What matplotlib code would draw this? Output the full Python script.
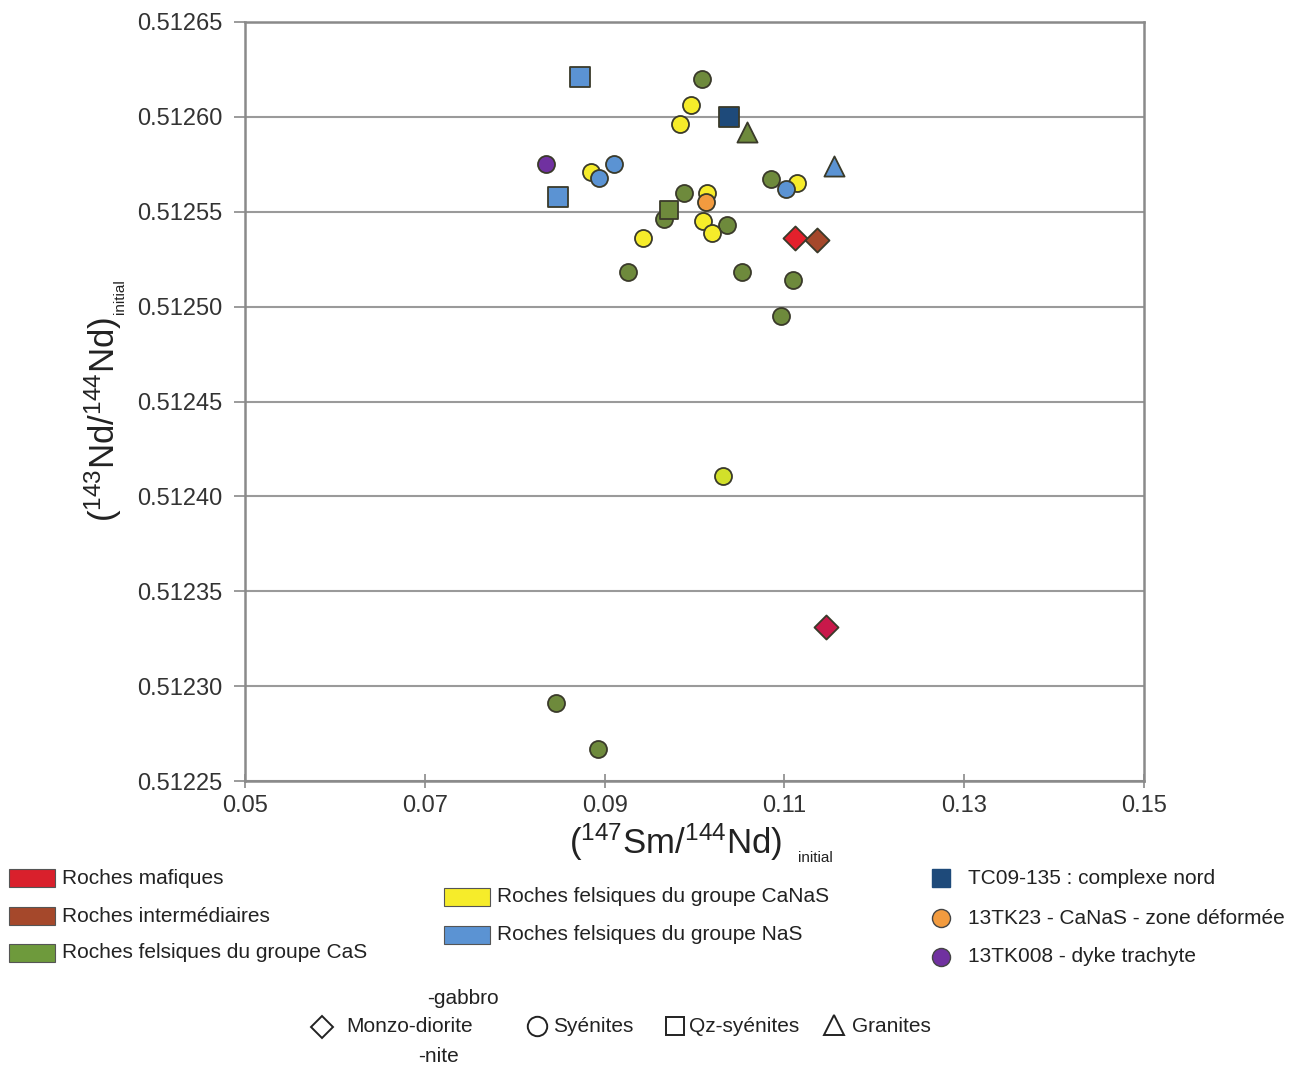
import matplotlib.pyplot as plt
from matplotlib.patches import Rectangle

plt.rcParams['font.family'] = ['Liberation Sans', 'DejaVu Sans']
plt.rcParams['mathtext.fontset'] = 'custom'
plt.rcParams['mathtext.rm'] = 'Liberation Sans'

# data: (147Sm/144Nd) vs (143Nd/144Nd)
mafic_x = [0.11118, 0.11463]
mafic_y = [0.512536, 0.512331]
inter_x = [0.11363]
inter_y = [0.512535]

cas_syen_x = [0.10083, 0.09883, 0.09661, 0.10362, 0.10851, 0.0926, 0.10528, 0.11096, 0.10962, 0.0846, 0.08927]
cas_syen_y = [0.512620, 0.512560, 0.512546, 0.512543, 0.512567, 0.512518, 0.512518, 0.512514, 0.512495, 0.512291, 0.512267]
cas_qz_x = [0.09716]
cas_qz_y = [0.512551]
cas_gran_x = [0.10584]
cas_gran_y = [0.512592]

canas_syen_x = [0.09961, 0.09839, 0.08849, 0.10139, 0.10095, 0.10195, 0.09427, 0.1114]
canas_syen_y = [0.512606, 0.512596, 0.512571, 0.512560, 0.512545, 0.512539, 0.512536, 0.512565]
canas_low_x = [0.10317]
canas_low_y = [0.512411]

nas_syen_x = [0.09105, 0.08938, 0.11018]
nas_syen_y = [0.512575, 0.512568, 0.512562]
nas_qz_x = [0.08726, 0.08482]
nas_qz_y = [0.512621, 0.512558]
nas_gran_x = [0.11552]
nas_gran_y = [0.512574]

tc09_x = [0.10384]
tc09_y = [0.512600]
tk23_x = [0.10128]
tk23_y = [0.512555]
tk008_x = [0.08348]
tk008_y = [0.512575]

x_ticks = [0.05, 0.07, 0.09, 0.11, 0.13, 0.15]
y_ticks = [0.51225, 0.51230, 0.51235, 0.51240, 0.51245, 0.51250, 0.51255, 0.51260, 0.51265]

RED = '#e3202c'
CRIMSON = '#c8184a'
BROWN = '#a5482b'
GREEN = '#6e8a3c'
YELLOW = '#f6ec2a'
LIME = '#d2e02a'
BLUE = '#5b93d3'
NAVY = '#1e4a7a'
ORANGE = '#f29b3f'
PURPLE = '#7031a0'

fig = plt.figure(figsize=(13.09, 10.68), dpi=100)
ax = fig.add_axes([245 / 1309, 1 - 781 / 1068, 899 / 1309, 759 / 1068])

S = 150
kw = dict(edgecolors='#3a3a2a', linewidths=1.3, zorder=3)
ax.scatter(cas_syen_x, cas_syen_y, s=S, marker='o', c=GREEN, **kw)
ax.scatter(canas_syen_x, canas_syen_y, s=S, marker='o', c=YELLOW, **kw)
ax.scatter(canas_low_x, canas_low_y, s=S, marker='o', c=LIME, **kw)
ax.scatter(nas_syen_x, nas_syen_y, s=S, marker='o', c=BLUE, **kw)
ax.scatter(cas_qz_x, cas_qz_y, s=S, marker='s', c=GREEN, **kw)
ax.scatter(nas_qz_x, nas_qz_y, s=S * 1.3, marker='s', c=BLUE, **kw)
ax.scatter(cas_gran_x, cas_gran_y, s=S * 1.4, marker='^', c=GREEN, **kw)
ax.scatter(nas_gran_x, nas_gran_y, s=S * 1.4, marker='^', c=BLUE, **kw)
ax.scatter(tc09_x, tc09_y, s=S * 1.3, marker='s', c=NAVY, **kw)
ax.scatter(tk23_x, tk23_y, s=S, marker='o', c=ORANGE, **kw)
ax.scatter(tk008_x, tk008_y, s=S, marker='o', c=PURPLE, **kw)
ax.scatter(mafic_x[:1], mafic_y[:1], s=S, marker='D', c=RED, **kw)
ax.scatter(mafic_x[1:], mafic_y[1:], s=S, marker='D', c=CRIMSON, **kw)
ax.scatter(inter_x, inter_y, s=S, marker='D', c=BROWN, **kw)

ax.set_xlim(0.05, 0.15)
ax.set_ylim(0.51225, 0.51265)
ax.set_xticks(x_ticks)
ax.set_yticks(y_ticks)
ax.set_xticklabels(['%.2f' % v for v in x_ticks])
ax.set_yticklabels(['%.5f' % v for v in y_ticks])
ax.grid(axis='y', color='#9a9a9a', linewidth=1.5)
ax.set_axisbelow(True)
for sp in ax.spines.values():
    sp.set_color('#8a8a8a')
    sp.set_linewidth(1.8)
ax.tick_params(axis='both', colors='#8a8a8a', labelcolor='#333333', labelsize=17, width=1.2)
ax.tick_params(axis='x', direction='inout', length=10, pad=5)
ax.tick_params(axis='y', direction='out', length=8, pad=8)

# axis titles drawn as text (superscripts and small subscript "initial")
fig.text(0.079, 0.607, r'($\mathregular{^{143}}$Nd/$\mathregular{^{144}}$Nd)', rotation=90, fontsize=25,
         ha='center', va='center', color='#222222')
fig.text(0.0917, 0.722, 'initial', rotation=90, fontsize=11, ha='center', va='center', color='#222222')
fig.text(0.516, 0.211, r'($\mathregular{^{147}}$Sm/$\mathregular{^{144}}$Nd)', fontsize=25,
         ha='center', va='center', color='#222222')
fig.text(0.623, 0.197, 'initial', fontsize=11, ha='center', va='center', color='#222222')

# legend drawn in pixel coordinates on an overlay
lg = fig.add_axes([0, 0, 1, 1])
lg.set_xlim(0, 1309)
lg.set_ylim(1068, 0)
lg.axis('off')

lfont = dict(fontsize=15, va='center', color='#222222')

def patch(x, y, col, label):
    lg.add_patch(Rectangle((x, y - 9), 46, 18, facecolor=col, edgecolor='#555555', linewidth=0.8))
    lg.text(x + 53, y, label, **lfont)

patch(9, 878, '#d9202c', 'Roches mafiques')
patch(9, 916, '#a5482b', 'Roches intermédiaires')
patch(9, 953, '#6e9a3c', 'Roches felsiques du groupe CaS')
patch(444, 897, YELLOW, 'Roches felsiques du groupe CaNaS')
patch(444, 935, BLUE, 'Roches felsiques du groupe NaS')

lg.plot([941], [878], marker='s', ms=13, color=NAVY, mec=NAVY, ls='none')
lg.text(968, 878, 'TC09-135 : complexe nord', **lfont)
lg.plot([941], [918], marker='o', ms=13, color=ORANGE, mec='#444444', ls='none')
lg.text(968, 918, '13TK23 - CaNaS - zone déformée', **lfont)
lg.plot([941], [957], marker='o', ms=13, color=PURPLE, mec='#444444', ls='none')
lg.text(968, 957, '13TK008 - dyke trachyte', **lfont)

shp = dict(ls='none', mfc='none', mec='#222222', mew=1.4)
lg.plot([322], [1027], marker='D', ms=11, **shp)
lg.text(346, 1027, 'Monzo-diorite', **lfont)
lg.text(427, 998, '-gabbro', **lfont)
lg.text(418, 1056, '-nite', **lfont)
lg.plot([537], [1026], marker='o', ms=14, **shp)
lg.text(553, 1027, 'Syénites', **lfont)
lg.plot([675], [1026], marker='s', ms=13, **shp)
lg.text(689, 1027, 'Qz-syénites', **lfont)
lg.plot([834], [1025], marker='^', ms=15, **shp)
lg.text(852, 1027, 'Granites', **lfont)

fig.savefig('out.png', dpi=100)
